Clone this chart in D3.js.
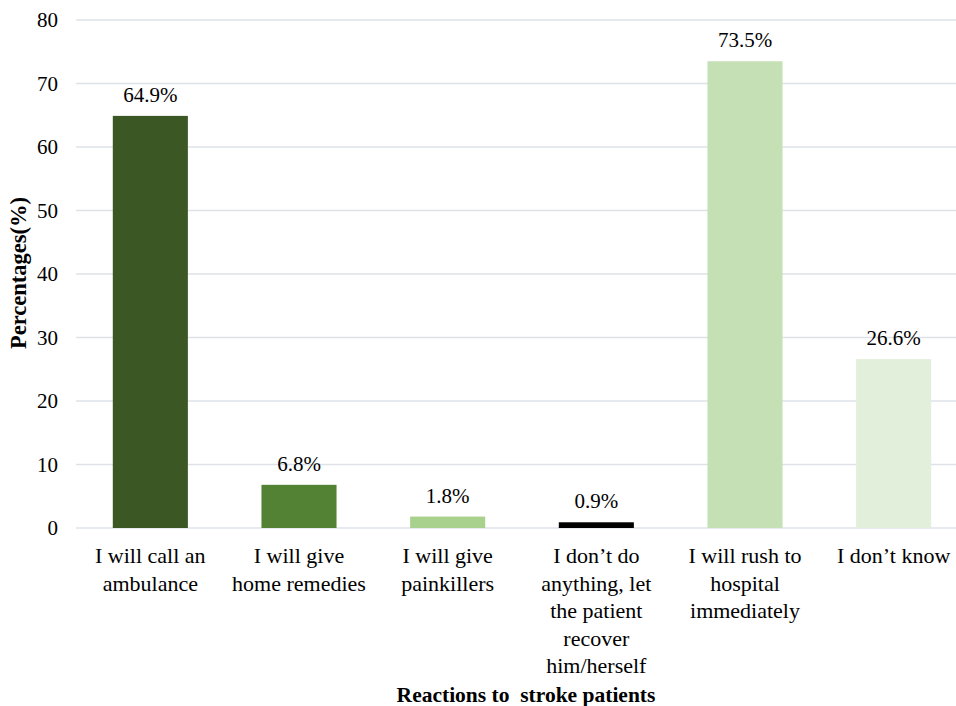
<!DOCTYPE html>
<html>
<head>
<meta charset="utf-8">
<script src="https://cdn.jsdelivr.net/npm/d3@7"></script>
<style>
  body { margin: 0; background: #fff; }
  svg text { font-family: "Liberation Serif", "Times New Roman", serif; fill: #000; }
</style>
</head>
<body>
<svg></svg>
<script>
//Setting
const width = 956;
const height = 706;

// data
const categories = [
  ["I will call an", "ambulance"],
  ["I will give", "home remedies"],
  ["I will give", "painkillers"],
  ["I don\u2019t do", "anything, let", "the patient", "recover", "him/herself"],
  ["I will rush to", "hospital", "immediately"],
  ["I don\u2019t know"]
];
const values = [64.9, 6.8, 1.8, 0.9, 73.5, 26.6];
const barColors = ["#3B5724", "#548235", "#A9D18E", "#000000", "#C5E0B4", "#E2EFDA"];
const yTicks = [0, 10, 20, 30, 40, 50, 60, 70, 80];

const svg = d3.select("svg")
  .attr("width", width)
  .attr("height", height);

const x = d3.scaleBand()
  .domain(d3.range(categories.length))
  .range([76, 968])
  .paddingInner(0.495)
  .paddingOuter(0.2475);

const y = d3.scaleLinear()
  .domain([0, 80])
  .range([528, 20]);

// gridlines
svg.append("g")
  .selectAll("line")
  .data(yTicks)
  .enter()
  .append("line")
  .attr("x1", 76)
  .attr("x2", width)
  .attr("y1", d => y(d))
  .attr("y2", d => y(d))
  .attr("stroke", "#DEE2E8")
  .attr("stroke-width", 1.5);

// y tick labels
svg.append("g")
  .selectAll("text")
  .data(yTicks)
  .enter()
  .append("text")
  .attr("x", 58)
  .attr("y", d => y(d))
  .attr("dy", "0.35em")
  .attr("text-anchor", "end")
  .style("font-size", "21px")
  .text(d => d);

// bars
svg.append("g")
  .selectAll("rect")
  .data(values)
  .enter()
  .append("rect")
  .attr("x", (d, i) => x(i))
  .attr("width", x.bandwidth())
  .attr("y", d => y(d))
  .attr("height", d => y(0) - y(d))
  .attr("fill", (d, i) => barColors[i]);

// value labels
svg.append("g")
  .selectAll("text")
  .data(values)
  .enter()
  .append("text")
  .attr("x", (d, i) => x(i) + x.bandwidth() / 2)
  .attr("y", d => y(d) - 14)
  .attr("text-anchor", "middle")
  .style("font-size", "21px")
  .text(d => d.toFixed(1) + "%");

// category labels
const cat = svg.append("g")
  .selectAll("text")
  .data(categories)
  .enter()
  .append("text")
  .attr("x", (d, i) => x(i) + x.bandwidth() / 2)
  .attr("y", 563)
  .attr("text-anchor", "middle")
  .style("font-size", "22px");

cat.selectAll("tspan")
  .data(d => d)
  .enter()
  .append("tspan")
  .attr("x", function() { return d3.select(this.parentNode).attr("x"); })
  .attr("dy", (d, i) => i === 0 ? 0 : 27.5)
  .text(d => d);

// axis titles
svg.append("text")
  .attr("x", 526)
  .attr("y", 702)
  .attr("text-anchor", "middle")
  .attr("xml:space", "preserve")
  .style("white-space", "pre")
  .style("font-size", "21.5px")
  .style("font-weight", "bold")
  .text("Reactions to  stroke patients");

svg.append("text")
  .attr("transform", "translate(26, 273) rotate(-90)")
  .attr("text-anchor", "middle")
  .style("font-size", "22.5px")
  .style("font-weight", "bold")
  .text("Percentages(%)");
</script>
</body>
</html>
